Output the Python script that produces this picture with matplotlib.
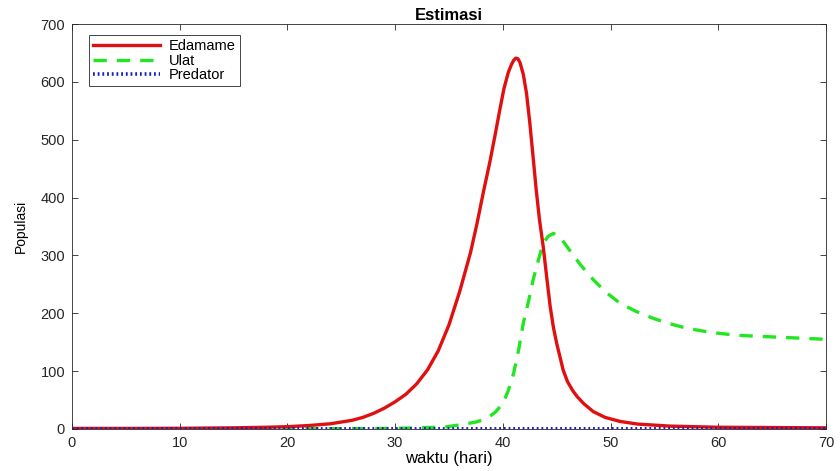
import numpy as np
import matplotlib.pyplot as plt

# data
t_edamame = [0, 5, 10, 15, 18, 20, 22, 24, 26, 27, 28, 29, 30, 31, 32, 33, 34,
             35, 36, 37, 37.6, 38.2, 38.8, 39.3, 39.7, 40.1, 40.5, 40.8, 41.0, 41.2,
             41.4, 41.6, 41.9, 42.2, 42.5, 42.8, 43.1, 43.4, 43.75, 44.1, 44.4, 44.7,
             45.0, 45.3, 45.6, 46.0, 46.5, 46.9, 47.5, 48.4, 49.5, 50.9, 52.5, 55.5,
             60, 65, 70]
edamame = [1, 1, 1.2, 2, 3, 4, 6, 9, 15, 20, 27, 36, 47, 60, 78, 102, 135,
           180, 238, 305, 355, 410, 462, 510, 550, 588, 616, 630, 637, 641,
           640, 633, 613, 580, 530, 472, 413, 362, 315, 258, 211, 175,
           148, 125, 102, 82, 66, 56, 44, 30, 20, 13, 8.5, 5,
           3, 2.5, 2]

t_ulat = [0, 10, 20, 25, 30, 32, 34, 34.8, 36, 37.5, 38.5, 39.3, 40.0, 40.5, 41.0,
          41.5, 41.9, 42.4, 42.8, 43.3, 43.75, 44.2, 44.7, 45.3, 46.2, 47.2, 48.4,
          49.6, 50.9, 52.4, 54.0, 55.5, 57.1, 59.3, 61.7, 64, 66.4, 68.2, 70]
ulat = [0.3, 0.3, 0.4, 0.6, 1, 2, 3, 4, 7, 12, 18, 29, 44, 66, 96,
        140, 183, 222, 257, 292, 321, 333, 338, 332, 309, 284, 258,
        236, 217, 203, 191, 182, 174, 167, 162, 160, 158, 156.5, 155]

t_predator = [0, 10, 20, 30, 40, 50, 60, 70]
predator = [0.2, 0.2, 0.2, 0.2, 0.3, 0.3, 0.3, 0.3]

plt.rcParams['font.family'] = ['Liberation Sans', 'DejaVu Sans']

fig = plt.figure(figsize=(8.4, 4.71), dpi=100)
ax = fig.add_axes([0.0857, 0.0892, 0.8976, 0.8598])

ax.plot(t_edamame, edamame, color="#e01010", lw=2.4, label="Edamame", zorder=3)
ax.plot(t_ulat, ulat, color="#22e622", lw=2.4, linestyle=(0, (4, 3)), label="Ulat",
        zorder=2)
ax.plot(t_predator, predator, color="#1a1acc", lw=2.6, linestyle=(0, (0.5, 0.8)),
        label="Predator", zorder=4)

ax.set_xlim(0, 70)
ax.set_ylim(0, 700)
ax.set_xticks(np.arange(0, 71, 10))
ax.set_yticks(np.arange(0, 701, 100))
ax.tick_params(direction="in", top=True, right=True, labelsize=10.5, length=4,
               width=0.6, colors="#262626", pad=5)
for s in ax.spines.values():
    s.set_linewidth(0.6)
    s.set_color("#262626")

ax.set_title("Estimasi", fontsize=12, fontweight="bold", pad=3)
ax.set_xlabel("waktu (hari)", fontsize=12, labelpad=1)
ax.set_ylabel("Populasi", fontsize=10, labelpad=9)

leg = ax.legend(loc="upper left", fontsize=10.5, handlelength=4.6, fancybox=False,
                framealpha=1, borderaxespad=0.75, labelspacing=0.02,
                borderpad=0.3, handletextpad=0.6, bbox_to_anchor=(0.008, 1.0))
leg.get_frame().set_edgecolor("#262626")
leg.get_frame().set_linewidth(0.6)

fig.savefig("out.png", dpi=100)
